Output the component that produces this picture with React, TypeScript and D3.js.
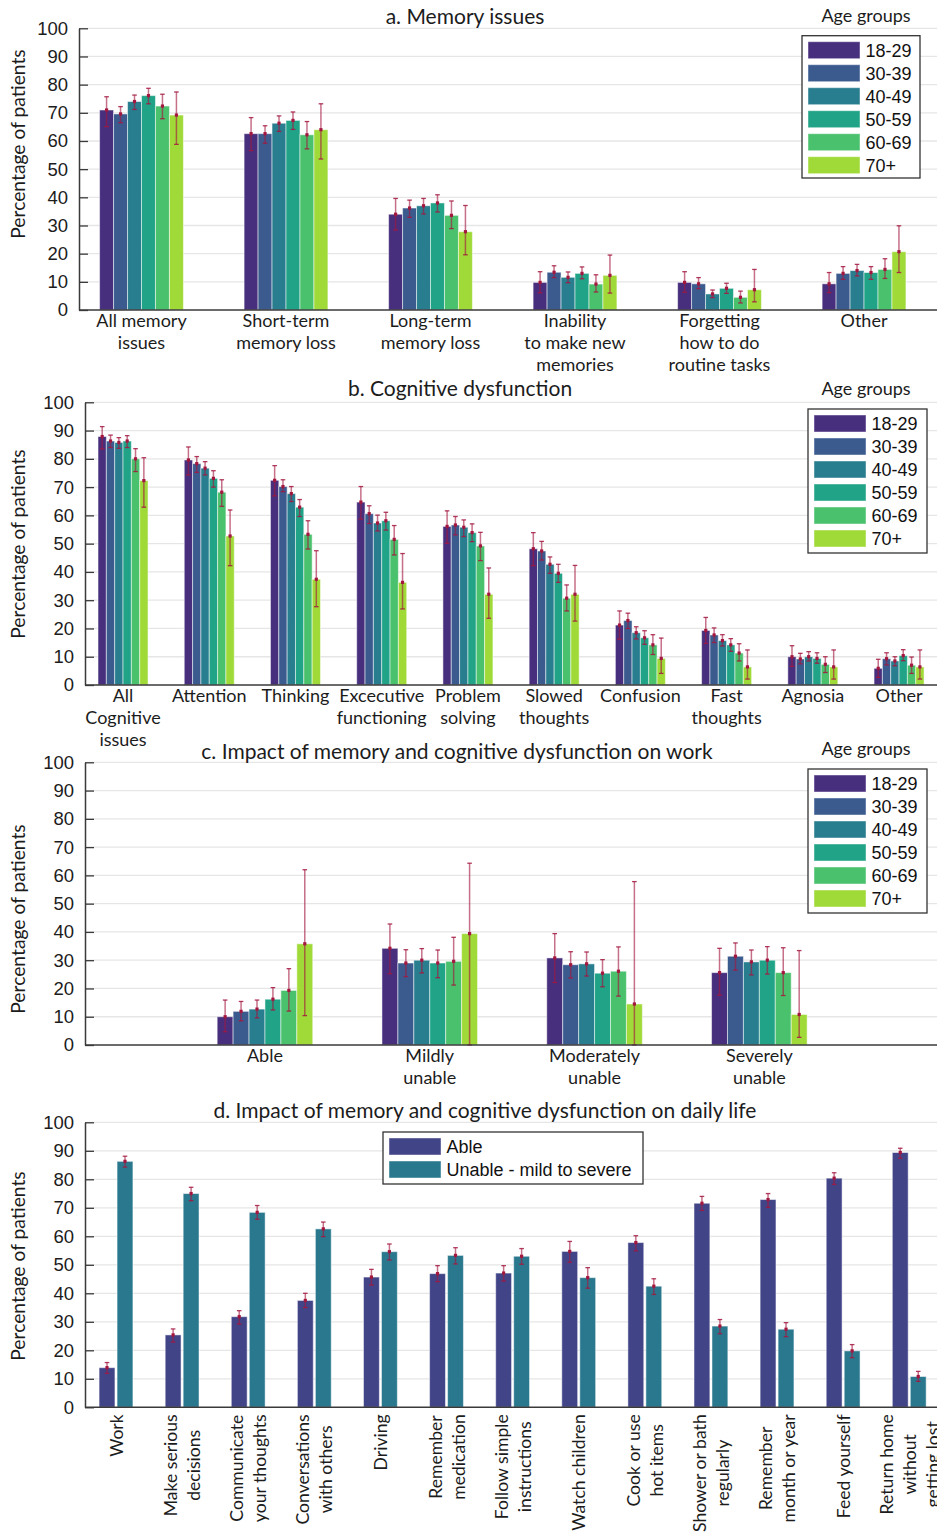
import React, { useEffect, useRef } from "react";
import * as d3 from "d3";

const W = 937;
const H = 1532;

const LABEL_FONT = "Lato, 'Open Sans', sans-serif";
const NUM_FONT = "'Liberation Sans', Arial, Helvetica, sans-serif";
const ERR_COLOR = "#a3173f";
const TEXT_COLOR = "#1c1c1c";

const yTicks = [0, 10, 20, 30, 40, 50, 60, 70, 80, 90, 100];

const ageGroups = ["18-29", "30-39", "40-49", "50-59", "60-69", "70+"];
const ageColors = ["#472f7d", "#3b5b8f", "#287d8e", "#20a387", "#4ac16d", "#a0da39"];

// a. Memory issues
const memoryLabels = [
  ["All memory", "issues"],
  ["Short-term", "memory loss"],
  ["Long-term", "memory loss"],
  ["Inability", "to make new", "memories"],
  ["Forgetting", "how to do", "routine tasks"],
  ["Other"],
];
const memoryValues = [
  [71.0, 69.6, 74.0, 76.1, 72.4, 69.2],
  [62.6, 62.6, 66.3, 67.3, 62.2, 64.0],
  [34.0, 36.2, 37.0, 38.0, 33.6, 27.8],
  [9.8, 13.4, 11.6, 13.0, 9.2, 12.3],
  [9.8, 9.3, 5.7, 7.7, 4.5, 7.2],
  [9.3, 13.0, 14.0, 13.3, 14.4, 20.7],
];
const memoryLow = [
  [65.1, 66.5, 71.2, 73.2, 67.9, 58.8],
  [56.6, 59.2, 63.4, 64.1, 57.2, 53.6],
  [28.4, 32.9, 34.1, 34.8, 28.9, 19.6],
  [6.1, 11.5, 9.7, 11.1, 6.4, 6.0],
  [6.3, 7.6, 4.4, 5.9, 2.5, 2.9],
  [6.2, 10.9, 12.1, 10.9, 11.2, 13.3],
];
const memoryHigh = [
  [75.7, 72.2, 76.3, 78.7, 76.6, 77.4],
  [68.3, 65.4, 68.9, 70.3, 66.9, 73.2],
  [39.6, 39.0, 39.6, 40.9, 38.7, 37.1],
  [13.6, 15.7, 13.5, 15.3, 12.5, 19.5],
  [13.6, 11.5, 7.1, 9.5, 6.7, 14.4],
  [13.3, 15.4, 16.2, 15.4, 18.2, 29.9],
];

// b. Cognitive dysfunction
const cognitiveLabels = [
  ["All", "Cognitive", "issues"],
  ["Attention"],
  ["Thinking"],
  ["Excecutive", "functioning"],
  ["Problem", "solving"],
  ["Slowed", "thoughts"],
  ["Confusion"],
  ["Fast", "thoughts"],
  ["Agnosia"],
  ["Other"],
];
const cognitiveValues = [
  [87.9, 86.3, 85.8, 86.3, 80.0, 72.3],
  [79.6, 78.3, 76.7, 73.1, 68.2, 52.7],
  [72.4, 70.2, 67.7, 62.9, 53.3, 37.4],
  [64.7, 60.6, 57.3, 58.1, 51.5, 36.3],
  [56.1, 56.6, 55.8, 53.9, 49.2, 32.1],
  [48.2, 47.4, 42.7, 39.5, 30.7, 32.1],
  [21.2, 22.8, 18.5, 16.7, 14.2, 9.4],
  [19.3, 17.7, 15.7, 14.2, 11.3, 6.4],
  [10.0, 9.2, 10.0, 9.4, 7.3, 6.4],
  [5.9, 9.3, 8.5, 10.4, 7.0, 6.4],
];
const cognitiveLow = [
  [83.5, 84.0, 83.7, 84.0, 75.5, 62.9],
  [74.3, 75.2, 74.3, 70.0, 63.2, 42.2],
  [66.9, 68.4, 64.9, 59.6, 48.1, 27.7],
  [58.7, 57.1, 54.5, 54.8, 46.0, 26.9],
  [50.1, 53.1, 52.5, 50.7, 44.0, 23.6],
  [42.2, 44.2, 39.5, 36.3, 26.2, 22.6],
  [16.2, 20.0, 16.3, 14.4, 10.8, 4.1],
  [14.7, 15.0, 13.8, 11.9, 8.5, 2.1],
  [6.6, 7.5, 8.5, 7.7, 4.4, 2.1],
  [2.7, 7.1, 6.8, 8.6, 4.1, 2.1],
];
const cognitiveHigh = [
  [91.4, 88.4, 87.5, 88.2, 83.6, 80.4],
  [84.2, 80.8, 79.0, 75.8, 72.6, 61.9],
  [77.6, 72.6, 70.2, 65.6, 58.1, 47.5],
  [70.2, 63.4, 60.1, 61.1, 56.4, 46.5],
  [61.6, 59.6, 58.4, 57.0, 54.0, 41.4],
  [53.9, 50.8, 45.3, 42.7, 35.4, 42.3],
  [26.2, 25.4, 20.6, 19.2, 17.8, 16.6],
  [23.9, 20.2, 17.8, 16.4, 14.6, 12.4],
  [13.9, 11.2, 11.8, 11.4, 10.0, 12.4],
  [9.1, 11.4, 10.0, 12.5, 9.9, 12.4],
];

// c. Impact on work
const workLabels = [
  ["Able"],
  ["Mildly", "unable"],
  ["Moderately", "unable"],
  ["Severely", "unable"],
];
const workValues = [
  [10.0, 11.9, 12.7, 16.2, 19.3, 35.8],
  [34.2, 29.0, 30.0, 29.0, 29.6, 39.4],
  [30.8, 28.4, 28.7, 25.4, 26.1, 14.5],
  [25.6, 31.4, 29.4, 30.0, 25.6, 10.8],
];
const workLow = [
  [4.7, 8.6, 9.6, 12.4, 12.0, 10.4],
  [25.2, 24.2, 25.5, 23.8, 21.2, 0],
  [22.1, 23.7, 24.4, 20.6, 17.3, 0],
  [17.6, 26.5, 24.8, 25.1, 17.5, 2.7],
];
const workHigh = [
  [15.9, 15.4, 15.9, 20.3, 27.0, 62.0],
  [42.8, 33.7, 34.1, 33.6, 38.1, 64.3],
  [39.4, 33.0, 32.9, 30.2, 34.7, 57.8],
  [34.2, 36.1, 33.6, 34.8, 34.4, 33.4],
];

// d. Impact on daily life
const dailyLabels = [
  ["Work"],
  ["Make serious", "decisions"],
  ["Communicate", "your thoughts"],
  ["Conversations", "with others"],
  ["Driving"],
  ["Remember", "medication"],
  ["Follow simple", "instructions"],
  ["Watch children"],
  ["Cook or use", "hot items"],
  ["Shower or bath", "regularly"],
  ["Remember", "month or year"],
  ["Feed yourself"],
  ["Return home", "without", "getting lost"],
];
const abilityGroups = ["Able", "Unable - mild to severe"];
const abilityColors = ["#414487", "#2a788e"];
const ableValues = [13.9, 25.4, 31.8, 37.5, 45.7, 46.9, 47.1, 54.7, 57.8, 71.6, 72.9, 80.4, 89.4];
const ableLow = [11.9, 22.9, 29.2, 35.0, 42.9, 44.1, 44.3, 50.9, 54.9, 69.1, 70.2, 78.2, 87.4];
const ableHigh = [15.7, 27.5, 33.9, 40.0, 48.4, 49.7, 49.7, 58.2, 60.2, 74.0, 75.0, 82.3, 90.9];
const unableValues = [86.3, 75.0, 68.4, 62.6, 54.6, 53.3, 53.0, 45.5, 42.5, 28.5, 27.4, 19.8, 10.8];
const unableLow = [84.3, 72.5, 66.0, 59.9, 51.7, 50.3, 50.2, 41.8, 39.6, 25.8, 24.8, 17.4, 9.1];
const unableHigh = [88.1, 77.2, 70.8, 65.0, 57.3, 56.0, 55.7, 49.0, 45.1, 30.8, 29.7, 22.0, 12.6];

type Sel = d3.Selection<any, any, any, any>;

interface PanelSpec {
  title: string;
  titleX: number;
  titleY: number;
  top: number;
  bottom: number;
  left: number;
  xDomain: [number, number];
  labels: string[][];
  values: number[][];
  low: number[][];
  high: number[][];
  colors: string[];
  slot: number;
  barWidth: number;
  yLabelY: number;
  rotatedLabels?: boolean;
  legend: { x: number; y: number; w: number; h: number; names: string[]; title?: string };
}

function drawPanel(root: Sel, p: PanelSpec) {
  const g = root.append("g");
  const y = d3.scaleLinear().domain([0, 100]).range([p.bottom, p.top]);
  const x = d3.scaleLinear().domain(p.xDomain).range([p.left, W]);
  const n = p.colors.length;
  const offset = (j: number) => (j - (n - 1) / 2) * p.slot;

  // gridlines
  g.append("g")
    .selectAll("line")
    .data(yTicks.filter((t) => t > 0))
    .join("line")
    .attr("x1", p.left)
    .attr("x2", W)
    .attr("y1", (d) => y(d))
    .attr("y2", (d) => y(d))
    .attr("stroke", "#e6e6e6")
    .attr("stroke-width", 1.3);

  const recs = p.values.flatMap((row, i) =>
    row.map((v, j) => ({ cat: i + 1, grp: j, v, lo: p.low[i][j], hi: p.high[i][j] }))
  );

  // bars
  g.append("g")
    .selectAll("rect")
    .data(recs)
    .join("rect")
    .attr("x", (d) => x(d.cat + offset(d.grp) - p.barWidth / 2))
    .attr("width", (d) => x(d.cat + offset(d.grp) + p.barWidth / 2) - x(d.cat + offset(d.grp) - p.barWidth / 2))
    .attr("y", (d) => y(d.v))
    .attr("height", (d) => y(0) - y(d.v))
    .attr("fill", (d) => p.colors[d.grp])
    .attr("stroke", "rgba(255,255,255,0.5)")
    .attr("stroke-width", 1);

  // error bars
  const eg = g.append("g").selectAll("g").data(recs).join("g");
  const cx = (d: any) => x(d.cat + offset(d.grp));
  eg.append("line")
    .attr("x1", cx)
    .attr("x2", cx)
    .attr("y1", (d) => y(d.lo))
    .attr("y2", (d) => y(d.hi))
    .attr("stroke", ERR_COLOR)
    .attr("stroke-opacity", 0.62)
    .attr("stroke-width", 1.5);
  for (const key of ["lo", "hi"] as const) {
    eg.append("line")
      .attr("x1", (d) => cx(d) - 2.3)
      .attr("x2", (d) => cx(d) + 2.3)
      .attr("y1", (d) => y(d[key]))
      .attr("y2", (d) => y(d[key]))
      .attr("stroke", ERR_COLOR)
      .attr("stroke-opacity", 0.85)
      .attr("stroke-width", 1.3);
  }
  eg.append("rect")
    .attr("x", (d) => cx(d) - 1.6)
    .attr("y", (d) => y(d.v) - 1.6)
    .attr("width", 3.2)
    .attr("height", 3.2)
    .attr("fill", ERR_COLOR);

  // y axis
  const axis = d3.axisLeft(y).tickValues(yTicks).tickSize(-9).tickSizeOuter(0).tickPadding(11);
  const ag = g.append("g").attr("transform", `translate(${p.left},0)`).call(axis);
  ag.select(".domain").attr("stroke", "#3a3a3a").attr("stroke-width", 1.5);
  ag.selectAll(".tick line").attr("stroke", "#3a3a3a").attr("stroke-width", 1.3);
  ag.selectAll(".tick text")
    .attr("font-family", NUM_FONT)
    .attr("font-size", 18.5)
    .attr("fill", TEXT_COLOR);

  // x baseline
  g.append("line")
    .attr("x1", p.left)
    .attr("x2", W)
    .attr("y1", y(0))
    .attr("y2", y(0))
    .attr("stroke", "#3a3a3a")
    .attr("stroke-width", 1.6);

  // y label
  g.append("text")
    .attr("transform", `translate(25,${p.yLabelY}) rotate(-90)`)
    .attr("text-anchor", "middle")
    .attr("font-family", LABEL_FONT)
    .attr("font-size", 19.3)
    .attr("fill", TEXT_COLOR)
    .text("Percentage of patients");

  // title
  g.append("text")
    .attr("x", p.titleX)
    .attr("y", p.titleY)
    .attr("text-anchor", "middle")
    .attr("font-family", LABEL_FONT)
    .attr("font-size", 21)
    .attr("fill", TEXT_COLOR)
    .text(p.title);

  // category labels
  const lg = g.append("g").attr("font-family", LABEL_FONT).attr("fill", TEXT_COLOR);
  if (!p.rotatedLabels) {
    lg.attr("font-size", 18);
    p.labels.forEach((lines, i) => {
      const t = lg
        .append("text")
        .attr("text-anchor", "middle")
        .attr("x", x(i + 1))
        .attr("y", p.bottom + 17);
      lines.forEach((ln, k) => {
        t.append("tspan")
          .attr("x", x(i + 1))
          .attr("dy", k === 0 ? 0 : 22)
          .text(ln);
      });
    });
  } else {
    lg.attr("font-size", 17.6);
    p.labels.forEach((lines, i) => {
      const tg = lg.append("g").attr("transform", `translate(${x(i + 1)},${p.bottom + 7}) rotate(-90)`);
      const texts = lines.map((ln, k) =>
        tg
          .append("text")
          .attr("text-anchor", "end")
          .attr("y", (k - (lines.length - 1) / 2) * 23 + 6.5)
          .text(ln)
      );
      const widths = texts.map((t) => (t.node() as SVGTextElement).getComputedTextLength());
      const maxW = Math.max(...widths);
      texts.forEach((t, k) => t.attr("x", -(maxW - widths[k]) / 2));
    });
  }

  // legend
  const L = p.legend;
  const leg = g.append("g");
  leg.append("rect")
    .attr("x", L.x)
    .attr("y", L.y)
    .attr("width", L.w)
    .attr("height", L.h)
    .attr("fill", "#fff")
    .attr("stroke", "#333")
    .attr("stroke-width", 1.3);
  const rows = leg
    .selectAll("g.row")
    .data(L.names)
    .join("g")
    .attr("transform", (_, k) => `translate(${L.x + 6},${L.y + 14.5 + k * 23})`);
  rows.append("rect")
    .attr("x", 0)
    .attr("y", -8.5)
    .attr("width", 52)
    .attr("height", 17)
    .attr("fill", (_, k) => p.colors[k])
    .attr("stroke", "rgba(255,255,255,0.45)")
    .attr("stroke-width", 1);
  rows.append("text")
    .attr("x", 57.5)
    .attr("y", 6.5)
    .attr("font-family", NUM_FONT)
    .attr("font-size", 18)
    .attr("fill", "#111")
    .text((d) => d);
  if (L.title) {
    g.append("text")
      .attr("x", 866)
      .attr("y", L.y - 14)
      .attr("text-anchor", "middle")
      .attr("font-family", LABEL_FONT)
      .attr("font-size", 18)
      .attr("fill", TEXT_COLOR)
      .text(L.title);
  }
}

export default function App() {
  const ref = useRef<SVGSVGElement>(null);

  useEffect(() => {
    const svg = d3.select(ref.current);
    svg.selectAll("*").remove();
    const ageSlot = 0.58 / 6;

    const panels: PanelSpec[] = [
      {
        title: "a. Memory issues",
        titleX: 465,
        titleY: 24,
        top: 28.3,
        bottom: 310,
        left: 79,
        xDomain: [0.5675, 6.505],
        labels: memoryLabels,
        values: memoryValues,
        low: memoryLow,
        high: memoryHigh,
        colors: ageColors,
        slot: ageSlot,
        barWidth: ageSlot,
        yLabelY: 144,
        legend: { x: 802, y: 35.7, w: 118, h: 142.3, names: ageGroups, title: "Age groups" },
      },
      {
        title: "b. Cognitive dysfunction",
        titleX: 460,
        titleY: 396,
        top: 402.3,
        bottom: 685,
        left: 85,
        xDomain: [0.559, 10.44],
        labels: cognitiveLabels,
        values: cognitiveValues,
        low: cognitiveLow,
        high: cognitiveHigh,
        colors: ageColors,
        slot: ageSlot,
        barWidth: ageSlot,
        yLabelY: 544,
        legend: { x: 808, y: 409, w: 119, h: 144, names: ageGroups, title: "Age groups" },
      },
      {
        title: "c. Impact of memory and cognitive dysfunction on work",
        titleX: 457,
        titleY: 759,
        top: 762.3,
        bottom: 1045,
        left: 85,
        xDomain: [-0.092, 5.078],
        labels: workLabels,
        values: workValues,
        low: workLow,
        high: workHigh,
        colors: ageColors,
        slot: ageSlot,
        barWidth: ageSlot,
        yLabelY: 919,
        legend: { x: 808, y: 769, w: 119, h: 144, names: ageGroups, title: "Age groups" },
      },
      {
        title: "d. Impact of memory and cognitive dysfunction on daily life",
        titleX: 485,
        titleY: 1118,
        top: 1122.3,
        bottom: 1407.3,
        left: 85,
        xDomain: [0.531, 13.42],
        labels: dailyLabels,
        values: ableValues.map((v, i) => [v, unableValues[i]]),
        low: ableLow.map((v, i) => [v, unableLow[i]]),
        high: ableHigh.map((v, i) => [v, unableHigh[i]]),
        colors: abilityColors,
        slot: 0.272,
        barWidth: 0.24,
        yLabelY: 1266,
        rotatedLabels: true,
        legend: { x: 383, y: 1132, w: 260, h: 52, names: abilityGroups },
      },
    ];

    panels.forEach((p) => drawPanel(svg, p));
  }, []);

  return (
    <svg
      ref={ref}
      width={W}
      height={H}
      style={{ position: "absolute", left: 0, top: 0, display: "block", background: "#fff" }}
    />
  );
}
